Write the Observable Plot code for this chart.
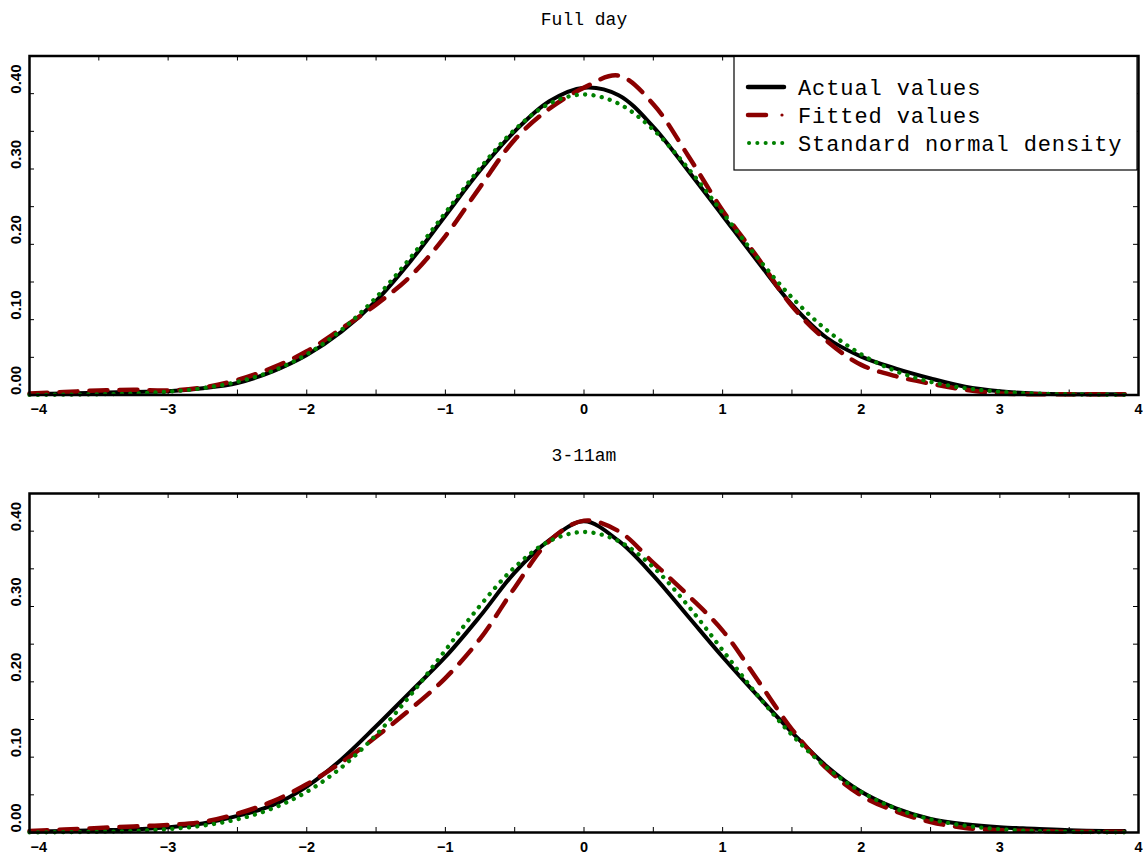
<!DOCTYPE html>
<html><head><meta charset="utf-8">
<script src="https://cdn.jsdelivr.net/npm/d3@7"></script>
<script src="https://cdn.jsdelivr.net/npm/@observablehq/plot@0.6"></script>
<style>body{margin:0;background:#fff} svg{display:block;overflow:visible}</style>
</head><body><div id="c"></div>
<script>
const xs = [-4,-3.75,-3.5,-3.25,-3,-2.75,-2.5,-2.25,-2,-1.75,-1.5,-1.25,-1,-0.75,-0.5,-0.25,0,0.25,0.5,0.75,1,1.25,1.5,1.75,2,2.25,2.5,2.75,3,3.25,3.5,3.75,3.9];
const normalDensity = [0.0001,0.0004,0.0009,0.0020,0.0044,0.0091,0.0175,0.0317,0.0540,0.0863,0.1295,0.1826,0.2420,0.3011,0.3521,0.3867,0.3989,0.3867,0.3521,0.3011,0.2420,0.1826,0.1295,0.0863,0.0540,0.0317,0.0175,0.0091,0.0044,0.0020,0.0009,0.0004,0.0002];
const fullActual = [0.001,0.002,0.003,0.004,0.005,0.009,0.016,0.031,0.053,0.084,0.125,0.178,0.238,0.298,0.350,0.390,0.408,0.398,0.356,0.298,0.238,0.178,0.120,0.076,0.051,0.035,0.022,0.011,0.005,0.002,0.001,0.001,0.001];
const fullFitted = [0.002,0.004,0.006,0.007,0.006,0.010,0.020,0.036,0.058,0.088,0.120,0.158,0.211,0.276,0.339,0.380,0.408,0.424,0.386,0.318,0.245,0.183,0.118,0.072,0.040,0.025,0.015,0.007,0.002,0.001,0.001,0.001,0.001];
const amActual = [0.001,0.002,0.003,0.004,0.007,0.012,0.022,0.036,0.061,0.097,0.141,0.187,0.233,0.287,0.345,0.388,0.413,0.387,0.341,0.287,0.233,0.182,0.133,0.088,0.054,0.032,0.018,0.011,0.007,0.005,0.003,0.002,0.002];
const amFitted = [0.002,0.004,0.006,0.008,0.010,0.014,0.025,0.041,0.064,0.093,0.127,0.164,0.205,0.257,0.325,0.387,0.414,0.400,0.358,0.315,0.268,0.203,0.137,0.085,0.049,0.028,0.014,0.006,0.003,0.002,0.001,0.001,0.001];

const panelTitles = ["Full day", "3-11am"];
const seriesNames = ["Actual values", "Fitted values", "Standard normal density"];
const xMajor = [-3,-2,-1,0,1,2,3,4];
const xMinor = [-4,-3.5,-3,-2.5,-2,-1.5,-1,-0.5,0,0.5,1,1.5,2,2.5,3,3.5,4];
const yMajor = [0,0.1,0.2,0.3,0.4];
const yMinor = [0,0.05,0.1,0.15,0.2,0.25,0.3,0.35,0.4,0.45];

const RED = "#8b0000", GREEN = "#008000";
const H = 339, W = 1109;
const fmtX = d => d < 0 ? "\u2212" + Math.abs(d) : String(d);

function panel(title, actual, fitted, normal, marginTop, marginBottom, titleDy) {
  const rows = xs.map((x, i) => ({x, a: actual[i], f: fitted[i], n: normal[i]}));
  return Plot.plot({
    width: 1143, height: marginTop + H + marginBottom,
    marginTop, marginBottom, marginLeft: 29, marginRight: 5,
    x: {domain: [-4, 4], axis: null, label: null},
    y: {domain: [0, 0.45], axis: null, label: null},
    style: {background: "white", fontFamily: "Liberation Sans"},
    marks: [
      Plot.tickX(xMinor, {x: d => d, insetTop: H - 5, stroke: "black", strokeWidth: 1}),
      Plot.tickX(xMinor, {x: d => d, insetBottom: H - 5, stroke: "black", strokeWidth: 1}),
      Plot.tickY(yMinor, {y: d => d, insetRight: W - 5, stroke: "black", strokeWidth: 1}),
      Plot.tickY(yMinor, {y: d => d, insetLeft: W - 5, stroke: "black", strokeWidth: 1}),
      Plot.line(rows, {x: "x", y: "a", stroke: "black", strokeWidth: 4, curve: "catmull-rom"}),
      Plot.line(rows, {x: "x", y: "f", stroke: RED, strokeWidth: 4.5, curve: "catmull-rom", strokeDasharray: "18,12", strokeLinecap: "round"}),
      Plot.line(rows, {x: "x", y: "n", stroke: GREEN, strokeWidth: 4.3, curve: "catmull-rom", strokeDasharray: "0.1,8.3", strokeLinecap: "round"}),
      Plot.frame({stroke: "black", strokeWidth: 2.5}),
      Plot.text(xMajor, {x: d => d, text: fmtX, frameAnchor: "bottom", dy: 14.5, lineAnchor: "middle", fontWeight: "bold", fontSize: 14.5, fill: "black"}),
      Plot.text([-4], {x: d => d, text: fmtX, frameAnchor: "bottom", dy: 14.5, dx: 1, textAnchor: "start", lineAnchor: "middle", fontWeight: "bold", fontSize: 14.5, fill: "black"}),
      Plot.text(yMajor, {y: d => d, text: d => d.toFixed(2), frameAnchor: "left", dx: -13, rotate: -90, lineAnchor: "middle", fontWeight: "bold", fontSize: 15, fill: "black"}),
      Plot.text([title], {text: d => d, frameAnchor: "top", dy: titleDy, lineAnchor: "middle", fontFamily: "Liberation Mono", fontSize: 18, fill: "black"})
    ]
  });
}

const topPanel = panel(panelTitles[0], fullActual, fullFitted, normalDensity, 55.5, 43.5, -37);
const bottomPanel = panel(panelTitles[1], amActual, amFitted, normalDensity, 55, 23, -38);
document.getElementById("c").append(topPanel, bottomPanel);

// legend in top panel
const g = d3.select(topPanel).append("g");
g.append("rect").attr("x", 734).attr("y", 56.5).attr("width", 403).attr("height", 113.5)
  .attr("fill", "white").attr("stroke", "black").attr("stroke-width", 1.2);
const ly = [87, 115, 143];
g.append("line").attr("x1", 748).attr("x2", 784).attr("y1", ly[0]).attr("y2", ly[0])
  .attr("stroke", "black").attr("stroke-width", 4.5).attr("stroke-linecap", "round");
g.append("line").attr("x1", 748).attr("x2", 766).attr("y1", ly[1]).attr("y2", ly[1])
  .attr("stroke", RED).attr("stroke-width", 4.5).attr("stroke-linecap", "round");
g.append("circle").attr("cx", 782).attr("cy", ly[1]).attr("r", 1.6).attr("fill", RED);
g.append("line").attr("x1", 749).attr("x2", 785).attr("y1", ly[2]).attr("y2", ly[2])
  .attr("stroke", GREEN).attr("stroke-width", 4).attr("stroke-linecap", "round").attr("stroke-dasharray", "0.1,8.2");
g.selectAll("text.lg").data(seriesNames).join("text")
  .attr("x", 798).attr("y", (d, i) => ly[i]).attr("dy", "0.35em")
  .attr("text-anchor", "start")
  .attr("font-family", "Liberation Mono").attr("font-size", 22).attr("letter-spacing", 0.9)
  .attr("fill", "black").text(d => d);
</script></body></html>
